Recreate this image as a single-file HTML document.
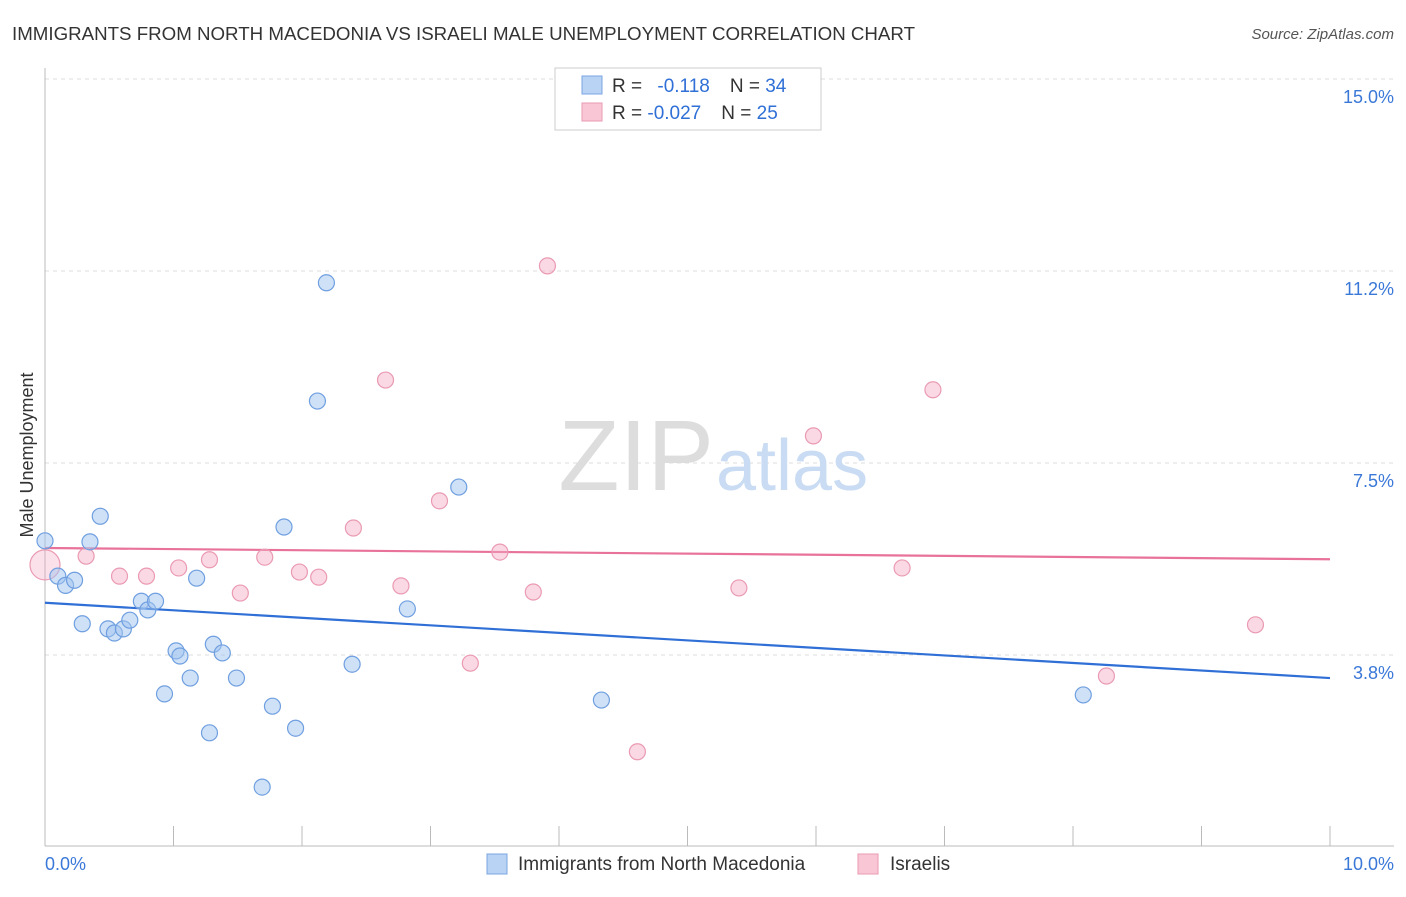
<!DOCTYPE html>
<html><head><meta charset="utf-8"><style>
body{margin:0;background:#fff;font-family:"Liberation Sans",sans-serif;}
svg text{font-family:"Liberation Sans",sans-serif;}
</style></head><body>
<svg width="1406" height="892" viewBox="0 0 1406 892">
<text x="12" y="40" font-size="18" fill="#333" textLength="903" lengthAdjust="spacingAndGlyphs">IMMIGRANTS FROM NORTH MACEDONIA VS ISRAELI MALE UNEMPLOYMENT CORRELATION CHART</text>
<text x="1394" y="39" font-size="15" fill="#555" text-anchor="end" font-style="italic">Source: ZipAtlas.com</text>
<text x="33" y="455" font-size="18" fill="#333" text-anchor="middle" transform="rotate(-90 33 455)">Male Unemployment</text>
<g id="grid"></g>
<text x="714" y="490" font-size="100" fill="#ddd" text-anchor="end" font-family="Liberation Serif">ZIP</text>
<text x="716" y="490" font-size="72" fill="#c9dcf3">atlas</text>
<g id="lines"></g>
<g id="points"></g>
<g>
<rect x="555" y="68" width="266" height="62" fill="#fff" stroke="#ccc"/>
<rect x="582" y="76" width="20" height="18" fill="#b8d3f4" stroke="#7aa6e0"/>
<text x="612" y="92" font-size="19" fill="#333">R = <tspan fill="#2f6fd6" dx="10">-0.118</tspan><tspan fill="#333" dx="20">N = </tspan><tspan fill="#2f6fd6">34</tspan></text>
<rect x="582" y="103" width="20" height="18" fill="#f8c6d4" stroke="#ea9ab2"/>
<text x="612" y="119" font-size="19" fill="#333">R = <tspan fill="#2f6fd6">-0.027</tspan><tspan fill="#333" dx="20">N = </tspan><tspan fill="#2f6fd6">25</tspan></text>
</g>
<g>
<rect x="487" y="854" width="20" height="20" fill="#b8d3f4" stroke="#7aa6e0"/>
<text x="518" y="870" font-size="19" fill="#333">Immigrants from North Macedonia</text>
<rect x="858" y="854" width="20" height="20" fill="#f8c6d4" stroke="#ea9ab2"/>
<text x="890" y="870" font-size="19" fill="#333">Israelis</text>
</g>
<text x="45" y="870" font-size="18" fill="#3a78d8">0.0%</text>
<text x="1394" y="870" font-size="18" fill="#3a78d8" text-anchor="end">10.0%</text>
</svg>
<script>
const yTickLabels=["15.0%","11.2%","7.5%","3.8%"];
const yTickVals=[15,11.25,7.5,3.75];
const xTickVals=[0,1,2,3,4,5,6,7,8,9,10];
const blueX=[0,0.10,0.16,0.23,0.35,0.43,0.29,0.49,0.54,0.61,0.66,0.75,0.80,0.86,0.93,1.02,1.05,1.13,1.18,1.28,1.31,1.38,1.49,1.77,1.69,1.86,1.95,2.12,2.19,2.39,2.82,3.22,4.33,8.08];
const blueY=[5.98,5.29,5.11,5.21,5.96,6.46,4.36,4.26,4.18,4.26,4.43,4.80,4.63,4.80,2.99,3.83,3.73,3.30,5.25,2.23,3.96,3.79,3.30,2.75,1.17,6.25,2.32,8.71,11.02,3.57,4.65,7.03,2.87,2.97];
const pinkX=[0,0.32,0.58,0.79,1.04,1.28,1.52,1.71,1.98,2.13,2.40,2.65,2.77,3.07,3.31,3.54,3.80,3.91,4.61,5.40,5.98,6.67,6.91,8.26,9.42];
const pinkY=[5.51,5.68,5.29,5.29,5.45,5.61,4.96,5.66,5.37,5.27,6.23,9.12,5.10,6.76,3.59,5.76,4.98,11.35,1.86,5.06,8.03,5.45,8.93,3.34,4.34];
const blueTrend=[4.77,3.30];
const pinkTrend=[5.84,5.62];
const NS="http://www.w3.org/2000/svg";
const xs=v=>45+v*128.5;
const ys=v=>79+(15-v)*51.2;
function mk(tag,attrs,parent){const e=document.createElementNS(NS,tag);for(const k in attrs)e.setAttribute(k,attrs[k]);document.getElementById(parent).appendChild(e);return e;}
yTickVals.forEach((v,i)=>{
 const l=mk('line',{x1:45,x2:1394,y1:ys(v),y2:ys(v),stroke:'#ddd','stroke-dasharray':'4,4'},'grid');
 
 
 const t=mk('text',{x:1394,y:ys(v)+24,'font-size':18,fill:'#3a78d8','text-anchor':'end'},'grid');
 t.textContent=yTickLabels[i];
 
 
});
const ya=mk('line',{x1:45,x2:45,y1:68,y2:846,stroke:'#bbb'},'grid');


const xa=mk('line',{x1:45,x2:1394,y1:846,y2:846,stroke:'#bbb'},'grid');


xTickVals.forEach(v=>{
 const t=mk('line',{x1:xs(v),x2:xs(v),y1:826,y2:846,stroke:'#bbb'},'grid');
 
 
});
const bl=mk('line',{x1:xs(0),x2:xs(10),y1:ys(blueTrend[0]),y2:ys(blueTrend[1]),stroke:'#2f6fd6','stroke-width':2.2},'lines');


const pl=mk('line',{x1:xs(0),x2:xs(10),y1:ys(pinkTrend[0]),y2:ys(pinkTrend[1]),stroke:'#e8729a','stroke-width':2.2},'lines');


pinkX.forEach((x,i)=>{
 const c=mk('circle',{cx:xs(x),cy:ys(pinkY[i]),r:i===0?15:8,fill:i===0?'rgba(244,170,195,0.35)':'rgba(244,170,195,0.45)',stroke:'#ea9ab2','stroke-width':1.2},'points');
 
 
});
blueX.forEach((x,i)=>{
 const c=mk('circle',{cx:xs(x),cy:ys(blueY[i]),r:8,fill:'rgba(160,195,240,0.5)',stroke:'#6f9fe0','stroke-width':1.2},'points');
 
 
});
</script>
</body></html>
